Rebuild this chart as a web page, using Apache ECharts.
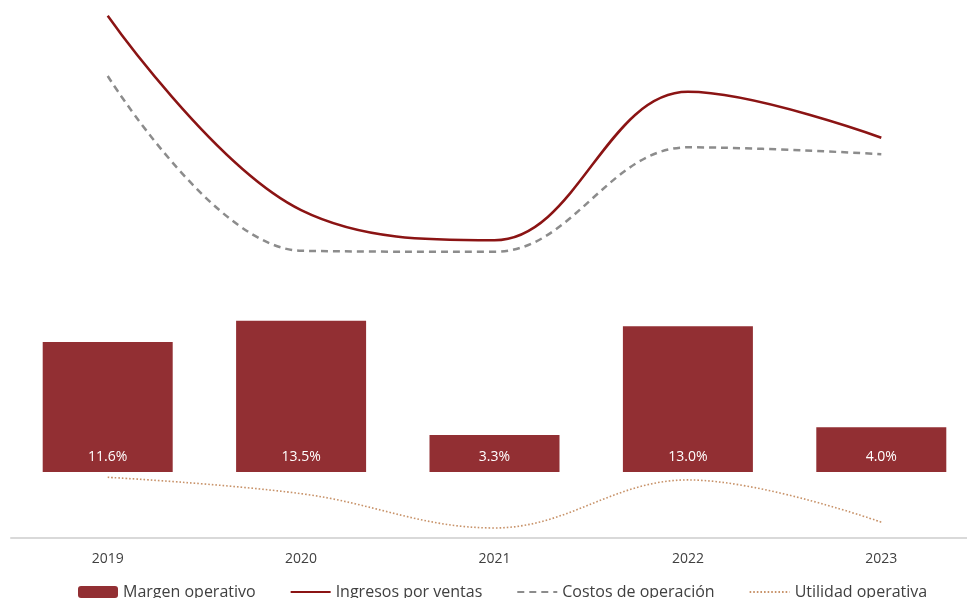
<!DOCTYPE html>
<html>
<head>
<meta charset="utf-8">
<script src="https://cdn.jsdelivr.net/npm/echarts@6/dist/echarts.min.js"></script>
<style>
html,body{margin:0;padding:0;background:#fff;}
#chart{width:967px;height:598px;}
</style>
</head>
<body>
<div id="chart"></div>
<script>
var years = ['2019', '2020', '2021', '2022', '2023'];
var margenOperativo = [11.6, 13.5, 3.3, 13.0, 4.0];
var ingresosVentas = [98.9, 62.1, 56.4, 84.5, 75.8];
var costosOperacion = [87.5, 54.4, 54.2, 74.0, 72.7];
var utilidadOperativa = [11.5, 8.4, 1.9, 11.0, 3.0];

var FONT = 'Open Sans';
var chart = echarts.init(document.getElementById('chart'));
chart.setOption({
  animation: false,
  textStyle: { fontFamily: FONT },
  grid: { left: 11, width: 967, top: 10, bottom: 60, outerBoundsMode: 'none', containLabel: false },
  legend: {
    bottom: -7,
    left: 73,
    itemWidth: 40,
    itemHeight: 12,
    itemGap: 34,
    textStyle: { fontSize: 16, color: '#404040', fontFamily: FONT },
    data: ['Margen operativo', 'Ingresos por ventas', 'Costos de operación', 'Utilidad operativa']
  },
  xAxis: {
    type: 'category',
    data: years,
    axisLine: { onZero: false, lineStyle: { color: '#d9d9d9', width: 2 } },
    axisTick: { show: false },
    axisLabel: { fontSize: 14, color: '#404040', margin: 14, fontFamily: FONT }
  },
  yAxis: [
    { type: 'value', min: -5.9, max: 41.25, show: false, splitLine: { show: false } },
    { type: 'value', min: 0, max: 100, show: false, splitLine: { show: false } }
  ],
  series: [
    {
      name: 'Margen operativo',
      type: 'bar',
      yAxisIndex: 0,
      data: margenOperativo,
      barWidth: 130,
      itemStyle: { color: '#922f33' },
      label: {
        show: true,
        position: 'insideBottom',
        distance: 8,
        color: '#ffffff',
        fontSize: 14,
        fontFamily: FONT,
        formatter: function (p) { return p.value.toFixed(1) + '%'; }
      }
    },
    {
      name: 'Ingresos por ventas',
      type: 'line',
      yAxisIndex: 1,
      data: ingresosVentas,
      smooth: 0.38,
      symbol: 'none',
      lineStyle: { color: '#8b1414', width: 2.5 },
      itemStyle: { color: '#8b1414', opacity: 0 }
    },
    {
      name: 'Costos de operación',
      type: 'line',
      yAxisIndex: 1,
      data: costosOperacion,
      smooth: 0.38,
      symbol: 'none',
      lineStyle: { color: '#8c8c8c', width: 2.5, type: [7, 5] },
      itemStyle: { color: '#8c8c8c', opacity: 0 }
    },
    {
      name: 'Utilidad operativa',
      type: 'line',
      yAxisIndex: 1,
      data: utilidadOperativa,
      smooth: 0.38,
      symbol: 'none',
      lineStyle: { color: '#c8936a', width: 1.6, type: [1.6, 2] },
      itemStyle: { color: '#c8936a', opacity: 0 }
    }
  ]
});
</script>
</body>
</html>
